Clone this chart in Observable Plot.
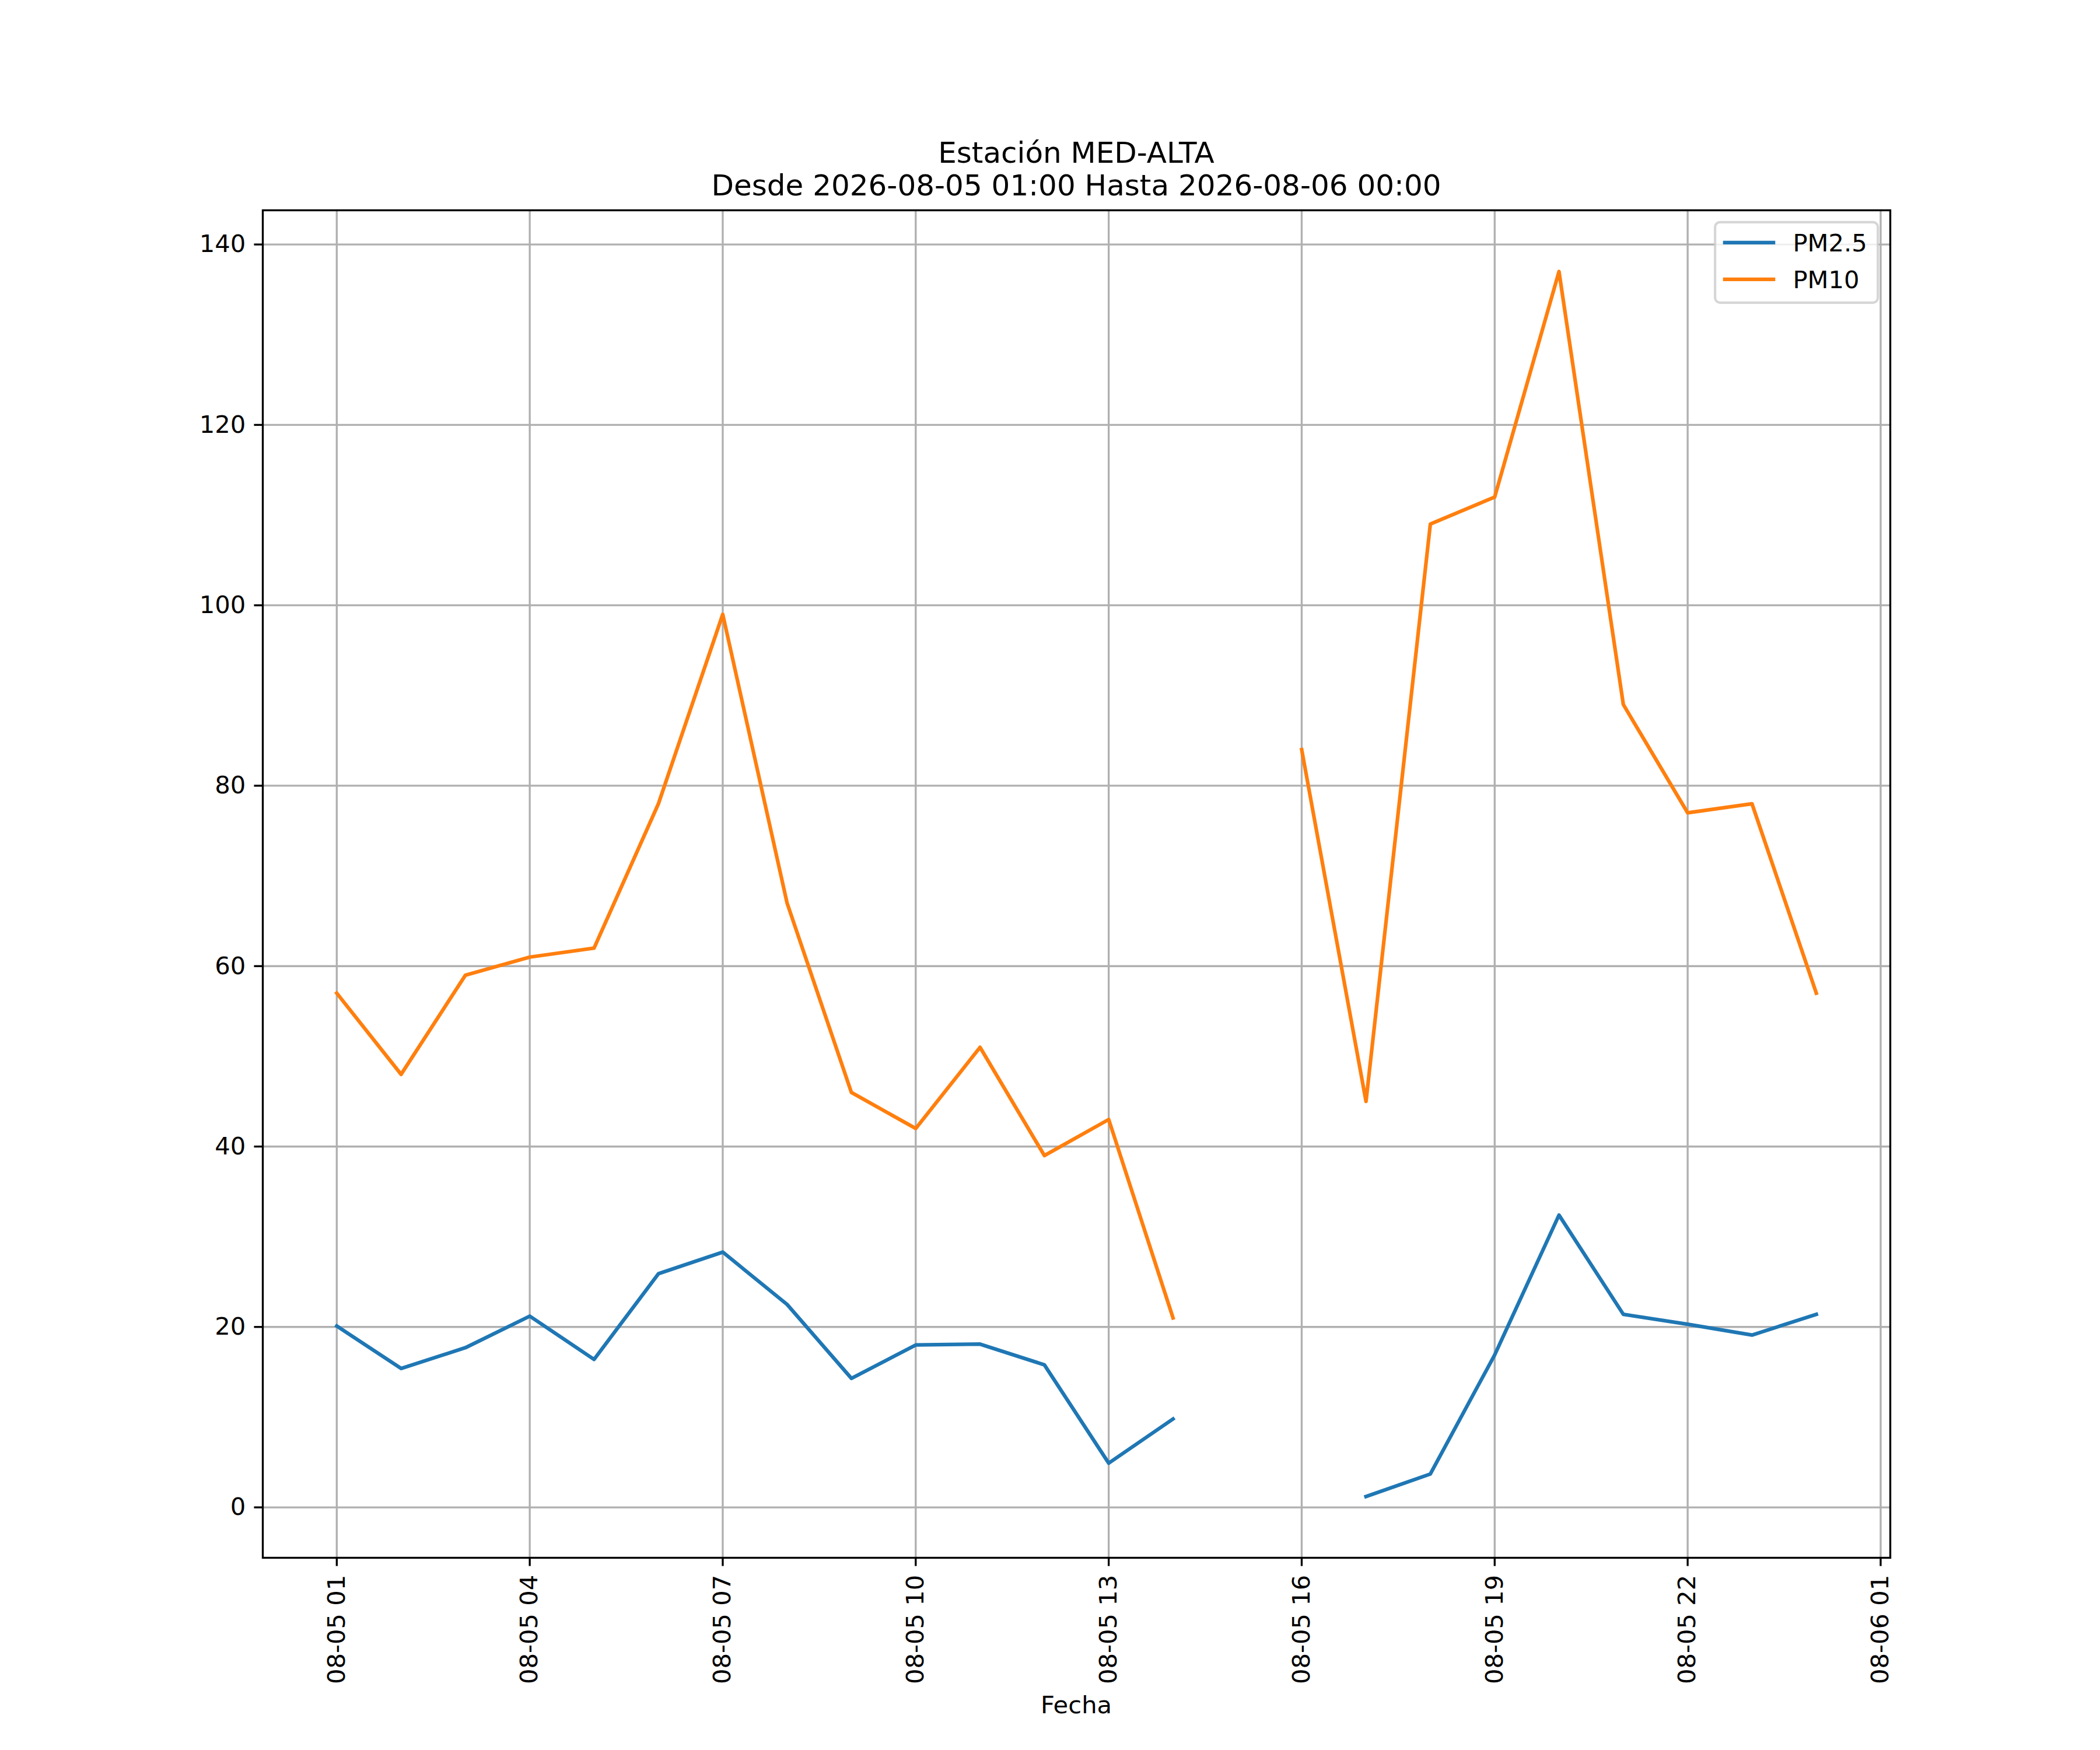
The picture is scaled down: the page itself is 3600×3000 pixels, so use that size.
<!DOCTYPE html>
<html>
<head>
<meta charset="utf-8">
<script src="https://cdn.jsdelivr.net/npm/d3@7"></script>
<script src="https://cdn.jsdelivr.net/npm/@observablehq/plot@0.6"></script>
<style>
  body { margin: 0; background: #fff; }
  svg { font-family: "DejaVu Sans", sans-serif; }
</style>
</head>
<body>
<div id="chart"></div>
<script>
// ---- data ----
const times = [
  "2026-08-05T01:00Z","2026-08-05T02:00Z","2026-08-05T03:00Z","2026-08-05T04:00Z",
  "2026-08-05T05:00Z","2026-08-05T06:00Z","2026-08-05T07:00Z","2026-08-05T08:00Z",
  "2026-08-05T09:00Z","2026-08-05T10:00Z","2026-08-05T11:00Z","2026-08-05T12:00Z",
  "2026-08-05T13:00Z","2026-08-05T14:00Z","2026-08-05T15:00Z","2026-08-05T16:00Z",
  "2026-08-05T17:00Z","2026-08-05T18:00Z","2026-08-05T19:00Z","2026-08-05T20:00Z",
  "2026-08-05T21:00Z","2026-08-05T22:00Z","2026-08-05T23:00Z","2026-08-06T00:00Z"
];
const pm25 = [20.1, 15.4, 17.7, 21.2, 16.4, 25.9, 28.3, 22.5, 14.3, 18.0, 18.1, 15.8, 4.9, 9.8,
              null, null, 1.2, 3.7, 16.9, 32.4, 21.4, 20.3, 19.1, 21.4];
const pm10 = [57, 48, 59, 61, 62, 78, 99, 67, 46, 42, 51, 39, 43, 21,
              null, 84, 45, 109, 112, 137, 89, 77, 78, 57];
const seriesNames = ["PM2.5", "PM10"];
const seriesColors = ["#1f77b4", "#ff7f0e"];
const xTicks = [
  "2026-08-05T01:00Z","2026-08-05T04:00Z","2026-08-05T07:00Z","2026-08-05T10:00Z",
  "2026-08-05T13:00Z","2026-08-05T16:00Z","2026-08-05T19:00Z","2026-08-05T22:00Z",
  "2026-08-06T01:00Z"
];
const yTicks = [0, 20, 40, 60, 80, 100, 120, 140];
const titleLines = ["Estación MED-ALTA", "Desde 2026-08-05 01:00 Hasta 2026-08-06 00:00"];
const xLabel = "Fecha";

// ---- layout (matplotlib 12x10in @300dpi) ----
const W = 3600, H = 3000;
const mL = 450, mR = 360, mT = 360, mB = 330;
const pt = 300 / 72;
const fs = 10 * pt;

const dates = times.map(t => new Date(t));
const rows = [];
seriesNames.forEach((name, s) => {
  const vals = s === 0 ? pm25 : pm10;
  dates.forEach((d, i) => rows.push({ time: d, value: vals[i], series: name }));
});
const allVals = [...pm25, ...pm10].filter(v => v != null);
const [t0, t1] = d3.extent(dates);
const tp = (t1 - t0) * 0.05;
const [v0, v1] = d3.extent(allVals);
const vp = (v1 - v0) * 0.05;

const chart = Plot.plot({
  width: W, height: H,
  marginLeft: mL, marginRight: mR, marginTop: mT, marginBottom: mB,
  style: { fontFamily: "DejaVu Sans", fontSize: fs + "px", background: "white", color: "black", overflow: "visible" },
  x: { type: "utc", domain: [new Date(+t0 - tp), new Date(+t1 + tp)] },
  y: { domain: [v0 - vp, v1 + vp] },
  color: { domain: seriesNames, range: seriesColors },
  marks: [
    Plot.gridX({ ticks: xTicks.map(t => new Date(t)), stroke: "#b0b0b0", strokeOpacity: 1, strokeWidth: 0.8 * pt }),
    Plot.gridY({ ticks: yTicks, stroke: "#b0b0b0", strokeOpacity: 1, strokeWidth: 0.8 * pt }),
    Plot.line(rows, { x: "time", y: "value", stroke: "series", strokeWidth: 1.5 * pt, strokeLinecap: "square", strokeLinejoin: "round" }),
    Plot.frame({ stroke: "black", strokeWidth: 0.8 * pt }),
    Plot.axisX({ ticks: xTicks.map(t => new Date(t)), tickFormat: d3.utcFormat("%m-%d %H"), tickRotate: -90,
                 tickSize: 3.5 * pt, tickPadding: 3.5 * pt, fontSize: fs, strokeWidth: 0.8 * pt, label: null }),
    Plot.axisY({ ticks: yTicks, tickSize: 3.5 * pt, tickPadding: 3.5 * pt, fontSize: fs, strokeWidth: 0.8 * pt, label: null })
  ]
});

const svg = d3.select(chart);
const cx = mL + (W - mL - mR) / 2;

// title
svg.append("text").attr("x", cx).attr("y", 279).attr("text-anchor", "middle")
  .attr("font-size", 12 * pt).attr("fill", "black").text(titleLines[0]);
svg.append("text").attr("x", cx).attr("y", 335).attr("text-anchor", "middle")
  .attr("font-size", 12 * pt).attr("fill", "black").text(titleLines[1]);

// x label
svg.append("text").attr("x", cx).attr("y", 2937).attr("text-anchor", "middle")
  .attr("font-size", fs).attr("fill", "black").text(xLabel);

// legend
const lgRight = W - mR - 0.5 * fs, lgTop = mT + 0.5 * fs;
const lgW = 279, lgH = 138;
const lg = svg.append("g");
lg.append("rect").attr("x", lgRight - lgW).attr("y", lgTop).attr("width", lgW).attr("height", lgH)
  .attr("rx", 0.2 * fs).attr("fill", "white").attr("fill-opacity", 0.8)
  .attr("stroke", "#cccccc").attr("stroke-opacity", 0.8).attr("stroke-width", 1 * pt);
seriesNames.forEach((name, i) => {
  const yc = lgTop + 35 + i * 63;
  const x0 = lgRight - lgW + 0.4 * fs;
  lg.append("line").attr("x1", x0).attr("x2", x0 + 2 * fs).attr("y1", yc).attr("y2", yc)
    .attr("stroke", seriesColors[i]).attr("stroke-width", 1.5 * pt).attr("stroke-linecap", "square");
  lg.append("text").attr("x", x0 + 2.8 * fs).attr("y", yc + 15).attr("font-size", fs)
    .attr("text-anchor", "start").attr("fill", "black").text(name);
});

document.getElementById("chart").appendChild(chart);
</script>
</body>
</html>
